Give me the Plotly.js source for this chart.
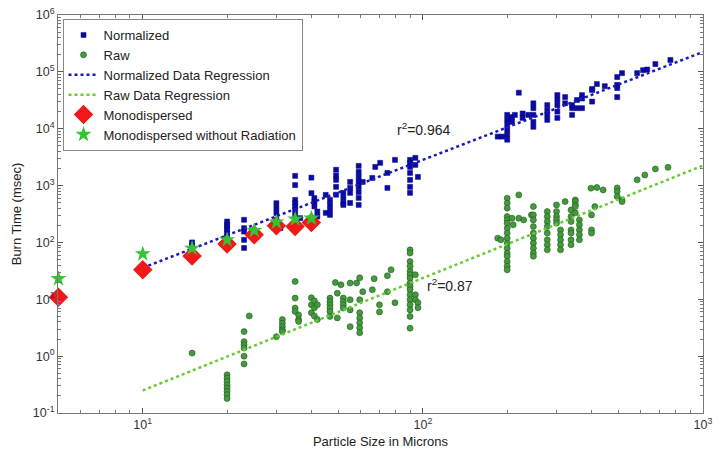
<!DOCTYPE html>
<html>
<head>
<meta charset="utf-8">
<script src="https://cdn.plot.ly/plotly-3.0.1.min.js"></script>
<style>html,body{margin:0;padding:0;background:#fff;}#chart{width:723px;height:453px;}</style>
</head>
<body>
<div id="chart"></div>
<script>
// ---- Data ----
// Normalized burn times, grouped by particle size
var normSizes = [15, 20, 23, 30, 31, 35, 36.5, 40, 41, 42, 45, 46.6, 49, 52, 55, 59, 61, 66, 67.6, 70.4, 74.7, 79.5, 90, 94, 96,
                 185, 192, 200, 208, 213, 220, 227, 238, 248, 278, 302, 322, 341, 355, 370, 402, 418, 446, 494, 514, 582, 611, 632, 676, 765];
var normTimes = [
  [100, 88], [233, 204, 186, 166, 146, 127, 110], [250, 178, 155, 111, 80], [490, 400, 328, 250, 204], [178],
  [1480, 1020, 560, 490, 430, 374, 305], [267], [1380, 735], [602, 525, 430], [349, 285], [686, 331],
  [560, 457, 373, 305], [1900, 1500, 1260, 950, 690], [745, 607, 495, 457], [1160, 910, 745, 495],
  [2220, 1740, 1420, 1160, 950, 770, 607, 457], [1160], [1360], [2130], [2510], [1670, 910], [2830],
  [2830, 2510, 2130, 1670, 1260, 950, 745], [3070, 2310], [1420],
  [7260], [7260], [17500, 14300, 11700, 9500, 7800, 6400], [16000, 13200], [17500], [43000], [18500, 15500], [17500],
  [28000, 23000, 17500, 13200, 10800], [26000, 21000, 17500, 14300], [39000, 32000, 26000, 20000, 15500],
  [36000, 28000], [17500, 23000, 26000], [32000, 23000], [39000, 34000, 23000], [50000, 30000, 48000],
  [61000], [56000], [81000, 59000, 52000, 36000], [95000], [95000], [107000], [110000], [137000], [162000]
];
// Raw burn times, grouped by particle size
var rawSizes = [15, 20, 23, 24, 30, 31.5, 35, 36, 40, 41, 42, 46.6, 48.7, 49.5, 51, 52, 55, 58, 59.5, 61, 66, 67, 70, 74.7, 77, 79.5, 90, 94, 96,
                185, 190, 200, 208, 210, 220, 229, 244, 248, 278, 300, 310, 322, 338, 350, 362, 398, 400, 411, 418, 440, 494, 514, 582, 620, 676, 750];
var rawTimes = [
  [1.13], [0.47, 0.41, 0.36, 0.31, 0.275, 0.24, 0.21, 0.18], [2.7, 1.8, 1.58, 1.39, 1.0, 0.73], [5.1], [2.2],
  [4.4, 3.8, 3.3, 2.9, 2.7], [20.6, 10.5, 7.0, 6.1], [5.3, 4.4, 4.07], [10.6, 8.0, 5.8], [9.4, 7.1, 5.1], [8.0, 4.4],
  [10.5, 9.1, 8.0, 7.0, 6.1, 5.0], [19.7], [12.8, 4.7], [18], [10.5, 9.1, 8.0, 7.0], [19.3, 9.8, 6.5, 3.3], [19.4],
  [23.8, 9.8, 5.8, 4.7, 3.85, 3.15, 2.58], [13.6], [14.7], [23], [8.0, 6.0], [13.6, 26], [33], [8.7],
  [74, 65, 46, 38, 31, 27, 23.6, 19.3, 16.8, 14.7, 12, 9.8, 8.0, 6.5, 5.0, 3.1], [27, 12, 9.8], [8.7, 7.1],
  [119], [111], [600, 491, 401, 285, 249, 218, 178, 146, 119, 97, 79, 65, 57, 46, 38, 33], [267], [204], [686, 267], [249], [305],
  [427, 305, 249, 190, 146, 119, 97, 79, 65, 57], [349, 285, 233, 190, 146, 111, 91, 74], [457, 349, 285, 249, 218],
  [166, 137, 111, 91, 74], [522], [373, 285, 233, 166, 146, 111, 91], [560, 522, 457, 427, 331], [249, 204, 166, 137, 111],
  [900], [305, 166, 146], [427], [925], [840], [910, 786, 640], [560, 522], [1260], [1540], [1960], [2090]
];
// Regression line end points
var regX = [10, 1000];
var regNormY = [35.8, 224000];
var regRawY = [0.249, 2250];
// Monodispersed results
var monoX = [5, 10, 15, 20, 25, 30, 35, 40];
var monoY = [10.9, 33, 58, 94, 136, 196, 190, 224];
var monoNoRadY = [23, 63, 79, 111, 162, 228, 257, 267];
// Axis ticks
var xTickVals = [10, 100, 1000];
var xTickText = ['10<sup>1</sup>', '10<sup>2</sup>', '10<sup>3</sup>'];
var yTickVals = [0.1, 1, 10, 100, 1000, 10000, 100000, 1000000];
var yTickText = ['10<sup>-1</sup>', '10<sup>0</sup>', '10<sup>1</sup>', '10<sup>2</sup>', '10<sup>3</sup>', '10<sup>4</sup>', '10<sup>5</sup>', '10<sup>6</sup>'];

function flatten(sizes, times) {
  var xs = [], ys = [];
  sizes.forEach(function (s, i) { times[i].forEach(function (t) { xs.push(s); ys.push(t); }); });
  return {x: xs, y: ys};
}
function minorTicks(lo, hi) {
  var out = [];
  for (var e = lo; e < hi; e++) for (var m = 2; m <= 9; m++) out.push(m * Math.pow(10, e));
  return out;
}
var norm = flatten(normSizes, normTimes);
var raw = flatten(rawSizes, rawTimes);
var FONT = 'Liberation Sans, Arial, sans-serif';

var traces = [
  {x: norm.x, y: norm.y, name: 'Normalized', mode: 'markers', type: 'scatter',
   marker: {symbol: 'square', size: 5, color: '#0a0aa8', line: {color: '#00007a', width: 0.5}}},
  {x: raw.x, y: raw.y, name: 'Raw', mode: 'markers', type: 'scatter',
   marker: {symbol: 'circle', size: 6, color: '#449a3c', line: {color: '#1e5a1e', width: 0.6}}},
  {x: regX, y: regNormY, name: 'Normalized Data Regression', mode: 'lines', type: 'scatter',
   line: {color: '#1a1ab8', width: 2.5, dash: 'dot'}},
  {x: regX, y: regRawY, name: 'Raw Data Regression', mode: 'lines', type: 'scatter',
   line: {color: '#66cc33', width: 2.5, dash: 'dot'}},
  {x: monoX, y: monoY, name: 'Monodispersed', mode: 'markers', type: 'scatter', cliponaxis: false,
   marker: {symbol: 'diamond', size: 15, color: '#f01818', line: {width: 0}}},
  {x: monoX, y: monoNoRadY, name: 'Monodispersed without Radiation', mode: 'markers', type: 'scatter', cliponaxis: false,
   marker: {symbol: 'star', size: 12, color: '#33c433', line: {width: 0}}}
];

var axisCommon = {
  type: 'log', showgrid: false, zeroline: false, showline: true, linecolor: '#777', linewidth: 1,
  mirror: 'allticks', ticks: 'inside', ticklen: 5, tickcolor: '#555', tickmode: 'array',
  tickfont: {family: FONT, size: 12.5, color: '#333'}
};
var layout = {
  width: 723, height: 453,
  margin: {l: 58, r: 20, t: 15, b: 40},
  paper_bgcolor: '#fff', plot_bgcolor: '#fff',
  font: {family: FONT, size: 12, color: '#222'},
  showlegend: true,
  legend: {x: 0.007, y: 0.99, xanchor: 'left', yanchor: 'top', bgcolor: '#fff', bordercolor: '#888', borderwidth: 1,
           font: {family: FONT, size: 13, color: '#222'}, tracegroupgap: 0, itemwidth: 30},
  xaxis: Object.assign({}, axisCommon, {
    range: [Math.log10(5) - 0.0015, 3], tickvals: xTickVals, ticktext: xTickText,
    minor: {tickvals: minorTicks(0, 3), ticks: 'inside', ticklen: 3, tickcolor: '#777', showgrid: false},
    title: {text: 'Particle Size in Microns', font: {family: FONT, size: 13, color: '#222'}, standoff: 5}
  }),
  yaxis: Object.assign({}, axisCommon, {
    range: [-1, 6], tickvals: yTickVals, ticktext: yTickText,
    minor: {tickvals: minorTicks(-1, 6), ticks: 'inside', ticklen: 3, tickcolor: '#777', showgrid: false},
    title: {text: 'Burn Time (msec)', font: {family: FONT, size: 13, color: '#222'}, standoff: 8}
  }),
  annotations: [
    {xref: 'paper', yref: 'paper', x: 0.567, y: 0.714, xanchor: 'center', yanchor: 'middle',
     text: 'r<sup>2</sup>=0.964', showarrow: false, font: {family: FONT, size: 14, color: '#222'}},
    {xref: 'paper', yref: 'paper', x: 0.608, y: 0.322, xanchor: 'center', yanchor: 'middle',
     text: 'r<sup>2</sup>=0.87', showarrow: false, font: {family: FONT, size: 14, color: '#222'}}
  ]
};
Plotly.newPlot('chart', traces, layout, {displayModeBar: false, staticPlot: true});
</script>
</body>
</html>
